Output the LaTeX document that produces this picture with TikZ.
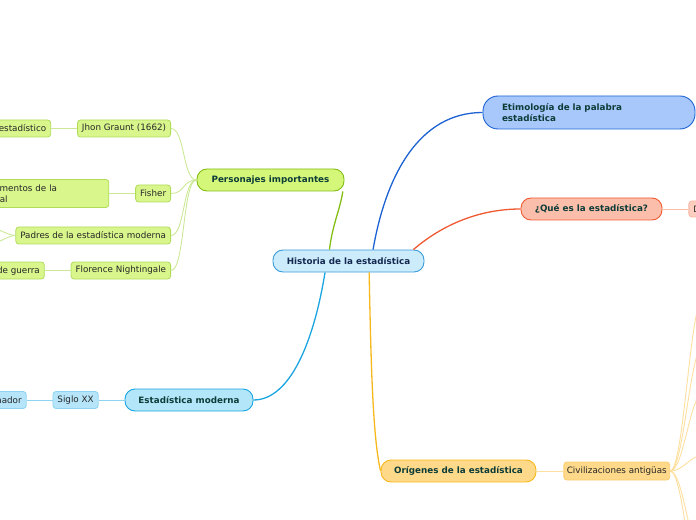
\documentclass[tikz,border=0pt]{standalone}
\usepackage{fontspec}
\setmainfont{DejaVu Sans}
\usetikzlibrary{positioning}
\definecolor{rootfill}{RGB}{204,236,252}
\definecolor{rootline}{RGB}{58,156,218}
\definecolor{rootink}{RGB}{20,40,80}
\definecolor{topicink}{RGB}{12,60,56}
\definecolor{limefill}{RGB}{212,247,122}
\definecolor{limeline}{RGB}{132,190,20}
\definecolor{limesub}{RGB}{216,246,140}
\definecolor{limesubline}{RGB}{176,220,90}
\definecolor{limewire}{RGB}{204,232,150}
\definecolor{skyfill}{RGB}{168,200,252}
\definecolor{skyline}{RGB}{28,98,210}
\definecolor{salmonfill}{RGB}{251,190,170}
\definecolor{salmonline}{RGB}{240,90,50}
\definecolor{salmonwire}{RGB}{250,190,170}
\definecolor{cyanfill}{RGB}{178,230,248}
\definecolor{cyanline}{RGB}{26,165,225}
\definecolor{cyansub}{RGB}{182,229,249}
\definecolor{cyansubline}{RGB}{140,212,242}
\definecolor{goldfill}{RGB}{254,217,138}
\definecolor{goldline}{RGB}{247,184,30}
\definecolor{goldsubline}{RGB}{250,205,110}
\definecolor{goldwire}{RGB}{253,224,160}

\begin{document}
\begin{tikzpicture}[x=1bp,y=-1bp,node distance=26bp,
  topic/.style={draw,line width=0.9bp,rounded corners=10bp,inner sep=0pt,minimum height=22bp,
    text=topicink,font=\fontsize{8.8}{10.8}\selectfont\bfseries},
  leaf/.style={draw,line width=0.8bp,rounded corners=3bp,inner xsep=4.5bp,inner ysep=0pt,
    minimum height=17bp,text=black!85,font=\fontsize{8.8}{10.8}\selectfont},
  branch/.style={line width=1.3bp},
  wire/.style={line width=0.9bp}]
  \useasboundingbox (0,0) rectangle (696,520);
  \clip (0,0) rectangle (696,520);

  % main topics
  \node[topic,fill=rootfill,draw=rootline,text=rootink,minimum width=151bp] (root) at (348.5,261) {Historia de la estadística};
  \node[topic,fill=limefill,draw=limeline,minimum width=147bp] (pers) at (270.5,180) {Personajes importantes};
  \node[topic,fill=skyfill,draw=skyline,minimum width=212bp,minimum height=33bp,text width=174bp,align=left,rounded corners=15bp] (etim) at (589,112.5) {Etimología de la palabra\\estadística};
  \node[topic,fill=salmonfill,draw=salmonline,minimum width=141bp] (que) at (591.5,209) {¿Qué es la estadística?};
  \node[topic,fill=cyanfill,draw=cyanline,minimum width=128bp] (moderna) at (189,400) {Estadística moderna};
  \node[topic,fill=goldfill,draw=goldline,minimum width=155bp] (origen) at (458.5,471) {Orígenes de la estadística};

  % personajes
  \node[leaf,fill=limesub,draw=limesubline,anchor=east] (graunt) at (171,128.5) {Jhon Graunt (1662)};
  \node[leaf,fill=limesub,draw=limesubline,left=of graunt] (graunt1) {Primer análisis estadístico};
  \node[leaf,fill=limesub,draw=limesubline,anchor=east] (fisher) at (171,193.5) {Fisher};
  \node[leaf,fill=limesub,draw=limesubline,left=of fisher,minimum height=28bp,text width=193bp,align=left] (fisher1) {Estableció los fundamentos de la\\estadística inferencial};
  \node[leaf,fill=limesub,draw=limesubline,anchor=east] (padres) at (171,235.5) {Padres de la estadística moderna};
  \node[leaf,fill=limesub,draw=limesubline,anchor=east] (nightingale) at (171,270.5) {Florence Nightingale};
  \node[leaf,fill=limesub,draw=limesubline,left=of nightingale] (nightingale1) {Estadísticas en hospitales de guerra};
  \coordinate (padresa) at (-14,226);
  \coordinate (padresb) at (-14,246);

  % moderna
  \node[leaf,fill=cyansub,draw=cyansubline,left=of moderna] (siglo) {Siglo XX};
  \node[leaf,fill=cyansub,draw=cyansubline,left=of siglo] (siglo1) {Uso del ordenador};

  % que es / origenes
  \node[leaf,fill=salmonfill!75,draw=salmonline!45,right=of que,minimum height=16bp] (definicion) {Definición};
  \node[leaf,fill=goldfill,draw=goldsubline,right=27bp of origen,minimum height=18bp,inner xsep=3bp] (civil) {Civilizaciones antigüas};

  % branches
  \draw[branch,skyline] (root.25) .. controls +(13,-75) and +(-63,0) .. (etim.west);
  \draw[branch,salmonline] (root.10) .. controls +(29,-25) and +(-41,0) .. (que.west);
  \draw[branch,limeline] (root.149) .. controls +(3,-25) and +(-3,19) .. (pers.-9);
  \draw[branch,cyanline] (root.206) .. controls +(-11,68) and +(37,0) .. (moderna.east);
  \draw[branch,goldline] (root.-29) .. controls +(2,108) and +(-7,-31) .. (origen.west);

  % sub wires
  \foreach \kid in {graunt,fisher,padres,nightingale}
    \draw[wire,limewire] (pers.west) .. controls +(-14,0) and +(14,0) .. (\kid.east);
  \draw[wire,limewire] (graunt) -- (graunt1);
  \draw[wire,limewire] (fisher) -- (fisher1);
  \draw[wire,limewire] (nightingale) -- (nightingale1);
  \foreach \kid in {padresa,padresb}
    \draw[wire,limewire] (padres.west) .. controls +(-8,0) and +(8,0) .. (\kid);
  \draw[wire,cyansubline] (moderna) -- (siglo);
  \draw[wire,cyansubline] (siglo) -- (siglo1);
  \draw[wire,salmonwire] (que) -- (definicion);
  \draw[wire,goldwire] (origen) -- (civil);
  \foreach \y [count=\i] in {296,344,392,455,560,600} {
    \coordinate (civ\i) at (704,\y);
    \draw[wire,goldwire] (civil.east) .. controls +(14,0) and +(-14,0) .. (civ\i);
  }
\end{tikzpicture}
\end{document}
